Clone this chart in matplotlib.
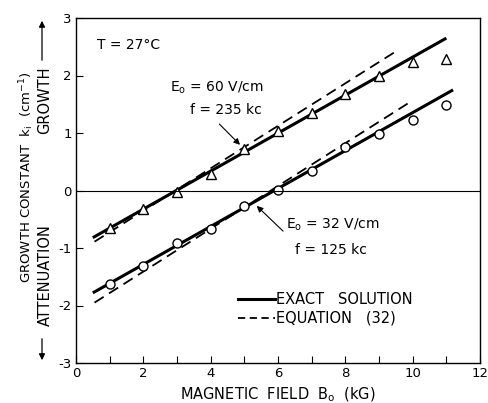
import matplotlib.pyplot as plt
from matplotlib.patches import FancyArrowPatch

# E0 = 60 V/cm, f = 235 kc  (triangles)
b_60 = [1, 2, 3, 4, 5, 6, 7, 8, 9, 10, 11]
k_60 = [-0.66, -0.33, -0.02, 0.29, 0.72, 1.04, 1.35, 1.67, 1.99, 2.23, 2.28]

# E0 = 32 V/cm, f = 125 kc  (circles)
b_32 = [1, 2, 3, 4, 5, 6, 7, 8, 9, 10, 11]
k_32 = [-1.62, -1.31, -0.92, -0.67, -0.27, 0.01, 0.34, 0.75, 0.98, 1.23, 1.48]

# exact solution (solid) and equation (32) (dashed), end points
exact_60_b = [0.5, 11.0]
exact_60_k = [-0.82, 2.65]
eq_60_b = [0.55, 9.45]
eq_60_k = [-0.89, 2.40]
exact_32_b = [0.5, 11.2]
exact_32_k = [-1.78, 1.75]
eq_32_b = [0.55, 9.9]
eq_32_k = [-1.95, 1.53]

plt.rcParams["font.family"] = "DejaVu Sans"
plt.rcParams["axes.unicode_minus"] = False
fig = plt.figure(figsize=(4.88, 4.03), dpi=100)
ax = fig.add_axes([76 / 488, 40 / 403, 404 / 488, 345 / 403])

dash = (0, (6, 3.5))
ax.plot(exact_60_b, exact_60_k, color="black", lw=2.2, solid_capstyle="butt")
ax.plot(eq_60_b, eq_60_k, color="black", lw=1.3, ls=dash)
ax.plot(exact_32_b, exact_32_k, color="black", lw=2.2, solid_capstyle="butt")
ax.plot(eq_32_b, eq_32_k, color="black", lw=1.3, ls=dash)

ax.plot(b_60, k_60, ls="none", marker="^", ms=6.5, mfc="white", mec="black", mew=1.0)
ax.plot(b_32, k_32, ls="none", marker="o", ms=6.5, mfc="white", mec="black", mew=1.0)

ax.axhline(0, color="black", lw=0.8)

ax.set_xlim(0, 12)
ax.set_ylim(-3, 3)
ax.set_xticks(range(0, 13))
ax.set_xticklabels([str(i) if i % 2 == 0 else "" for i in range(0, 13)])
ax.set_yticks(range(-3, 4))
ax.tick_params(direction="in", length=5, width=0.8, labelsize=9.5, pad=3)
for s in ax.spines.values():
    s.set_linewidth(1.0)

fs = 10
ax.text(0.62, 2.53, "T = 27°C", fontsize=fs, va="center")
ax.text(2.8, 1.78, "E$_\\mathregular{o}$ = 60 V/cm", fontsize=fs, va="center")
ax.text(3.4, 1.40, "f = 235 kc", fontsize=fs, va="center")
ax.annotate("", xy=(4.93, 0.76), xytext=(4.2, 1.19),
            arrowprops=dict(arrowstyle="-|>", color="black", lw=0.8, mutation_scale=9))
ax.text(6.25, -0.60, "E$_\\mathregular{o}$ = 32 V/cm", fontsize=fs, va="center")
ax.text(6.5, -1.03, "f = 125 kc", fontsize=fs, va="center")
ax.annotate("", xy=(5.31, -0.235), xytext=(6.21, -0.74),
            arrowprops=dict(arrowstyle="-|>", color="black", lw=0.8, mutation_scale=9))

# legend drawn in place
ax.plot([4.8, 5.9], [-1.89, -1.89], color="black", lw=2.2)
ax.plot([4.8, 5.9], [-2.22, -2.22], color="black", lw=1.3, ls=(0, (4, 2.5)))
ax.text(5.95, -1.89, "EXACT   SOLUTION", fontsize=10.5, va="center")
ax.text(5.95, -2.22, "EQUATION   (32)", fontsize=10.5, va="center")

ax.set_xlabel("MAGNETIC  FIELD  B$_\\mathregular{o}$  (kG)", fontsize=10.5, labelpad=4)

fig.text(27 / 488, 1 - 177 / 403, "GROWTH CONSTANT  k$_\\mathregular{i}$  (cm$^{-1}$)",
         rotation=90, fontsize=9.5, ha="center", va="center")
fig.text(45 / 488, 1 - 100 / 403, "GROWTH", rotation=90, fontsize=10.5, ha="center", va="center")
fig.text(45 / 488, 1 - 275 / 403, "ATTENUATION", rotation=90, fontsize=10.5, ha="center", va="center")
fig.add_artist(FancyArrowPatch(
    (42 / 488, 1 - 63 / 403), (42 / 488, 1 - 18 / 403), transform=fig.transFigure,
    arrowstyle="-|>", mutation_scale=9, color="black", lw=0.9))
fig.add_artist(FancyArrowPatch(
    (42 / 488, 1 - 336 / 403), (42 / 488, 1 - 363 / 403), transform=fig.transFigure,
    arrowstyle="-|>", mutation_scale=9, color="black", lw=0.9))

fig.savefig("out.png", dpi=100)
